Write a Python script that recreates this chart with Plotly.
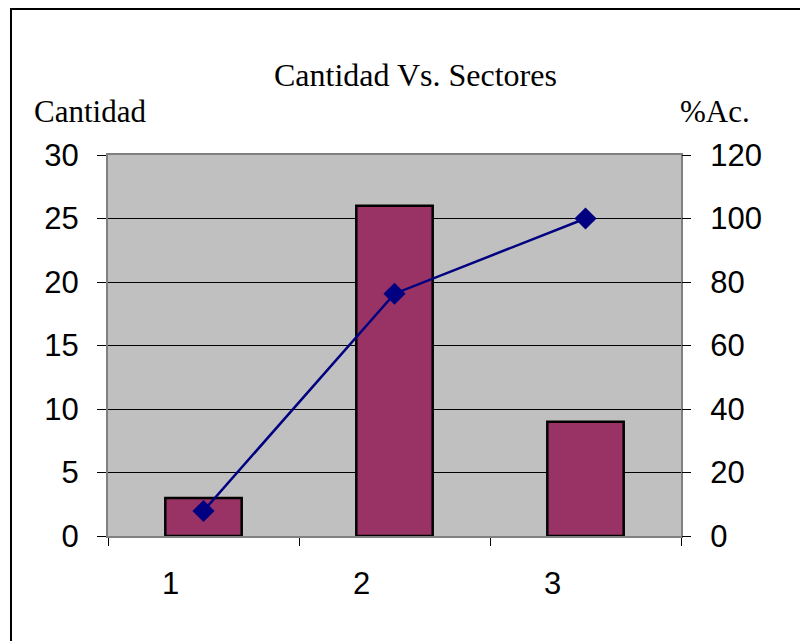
import plotly.graph_objects as go

categories = [1, 2, 3]
category_labels = ["1", "2", "3"]
cantidad = [3, 26, 9]
pct_acumulado = [7.89, 76.32, 100.0]
y_left_ticks = [0, 5, 10, 15, 20, 25, 30]
y_right_ticks = [0, 20, 40, 60, 80, 100, 120]
category_bounds = [0.5, 1.5, 2.5, 3.5]

fig = go.Figure()
fig.add_trace(go.Bar(
    x=categories, y=cantidad, width=0.4,
    marker=dict(color="#993366", line=dict(color="black", width=2.5)),
    showlegend=False,
))
fig.add_trace(go.Scatter(
    x=categories, y=pct_acumulado, yaxis="y2", mode="lines+markers",
    line=dict(color="#000080", width=2.5),
    marker=dict(symbol="diamond", size=17, color="#000080"),
    showlegend=False,
))

axis_font = dict(family="Liberation Sans, Arial", size=31, color="black")
PW, PH = 573, 381
L, T = 100, 147
fig.update_layout(
    width=800, height=633,
    margin=dict(l=L, r=800 - L - PW, t=T, b=633 - T - PH),
    paper_bgcolor="white", plot_bgcolor="#C0C0C0",
    xaxis=dict(
        range=[0.5, 3.5], tickvals=categories, ticktext=category_labels,
        ticks="", tickfont=axis_font, ticklabelshift=-33, ticklabelstandoff=19,
        showgrid=False, zeroline=False,
        showline=True, linecolor="#808080", linewidth=2, mirror=True,
        minor=dict(tickmode="array", tickvals=category_bounds, ticks="outside",
                   ticklen=8, tickcolor="black", tickwidth=1, showgrid=False),
    ),
    yaxis=dict(
        range=[0, 30], tickvals=y_left_ticks, ticks="outside", ticklen=9,
        tickcolor="black", tickfont=axis_font, ticklabelstandoff=12,
        showgrid=True, gridcolor="black", gridwidth=1, zeroline=False,
        showline=True, linecolor="#808080", linewidth=2, mirror=True,
    ),
    yaxis2=dict(
        range=[0, 120], tickvals=y_right_ticks, ticks="outside", ticklen=9,
        tickcolor="black", tickfont=axis_font, ticklabelstandoff=13,
        overlaying="y", side="right", showgrid=False, zeroline=False,
        showline=False,
    ),
    font=dict(family="Liberation Serif, Times New Roman", color="black"),
    shapes=[dict(type="rect", xref="paper", yref="paper",
                 x0=-0.1693, x1=1.25, y0=-0.32, y1=(T + PH - 1) / PH,
                 line=dict(color="black", width=2), fillcolor="rgba(0,0,0,0)",
                 layer="below")],
    annotations=[
        dict(text="Cantidad Vs. Sectores", xref="paper", yref="paper",
             x=(415 - 108) / PW, y=(536 - 75) / PH, xanchor="center", yanchor="middle",
             showarrow=False, font=dict(family="Liberation Serif", size=32)),
        dict(text="Cantidad", xref="paper", yref="paper",
             x=(32 - 108) / PW, y=(536 - 111) / PH, xanchor="left", yanchor="middle",
             showarrow=False, font=dict(family="Liberation Serif", size=31)),
        dict(text="%Ac.", xref="paper", yref="paper",
             x=(752 - 108) / PW, y=(536 - 111) / PH, xanchor="right", yanchor="middle",
             showarrow=False, font=dict(family="Liberation Serif", size=31)),
    ],
)

fig.write_html("out.html")
